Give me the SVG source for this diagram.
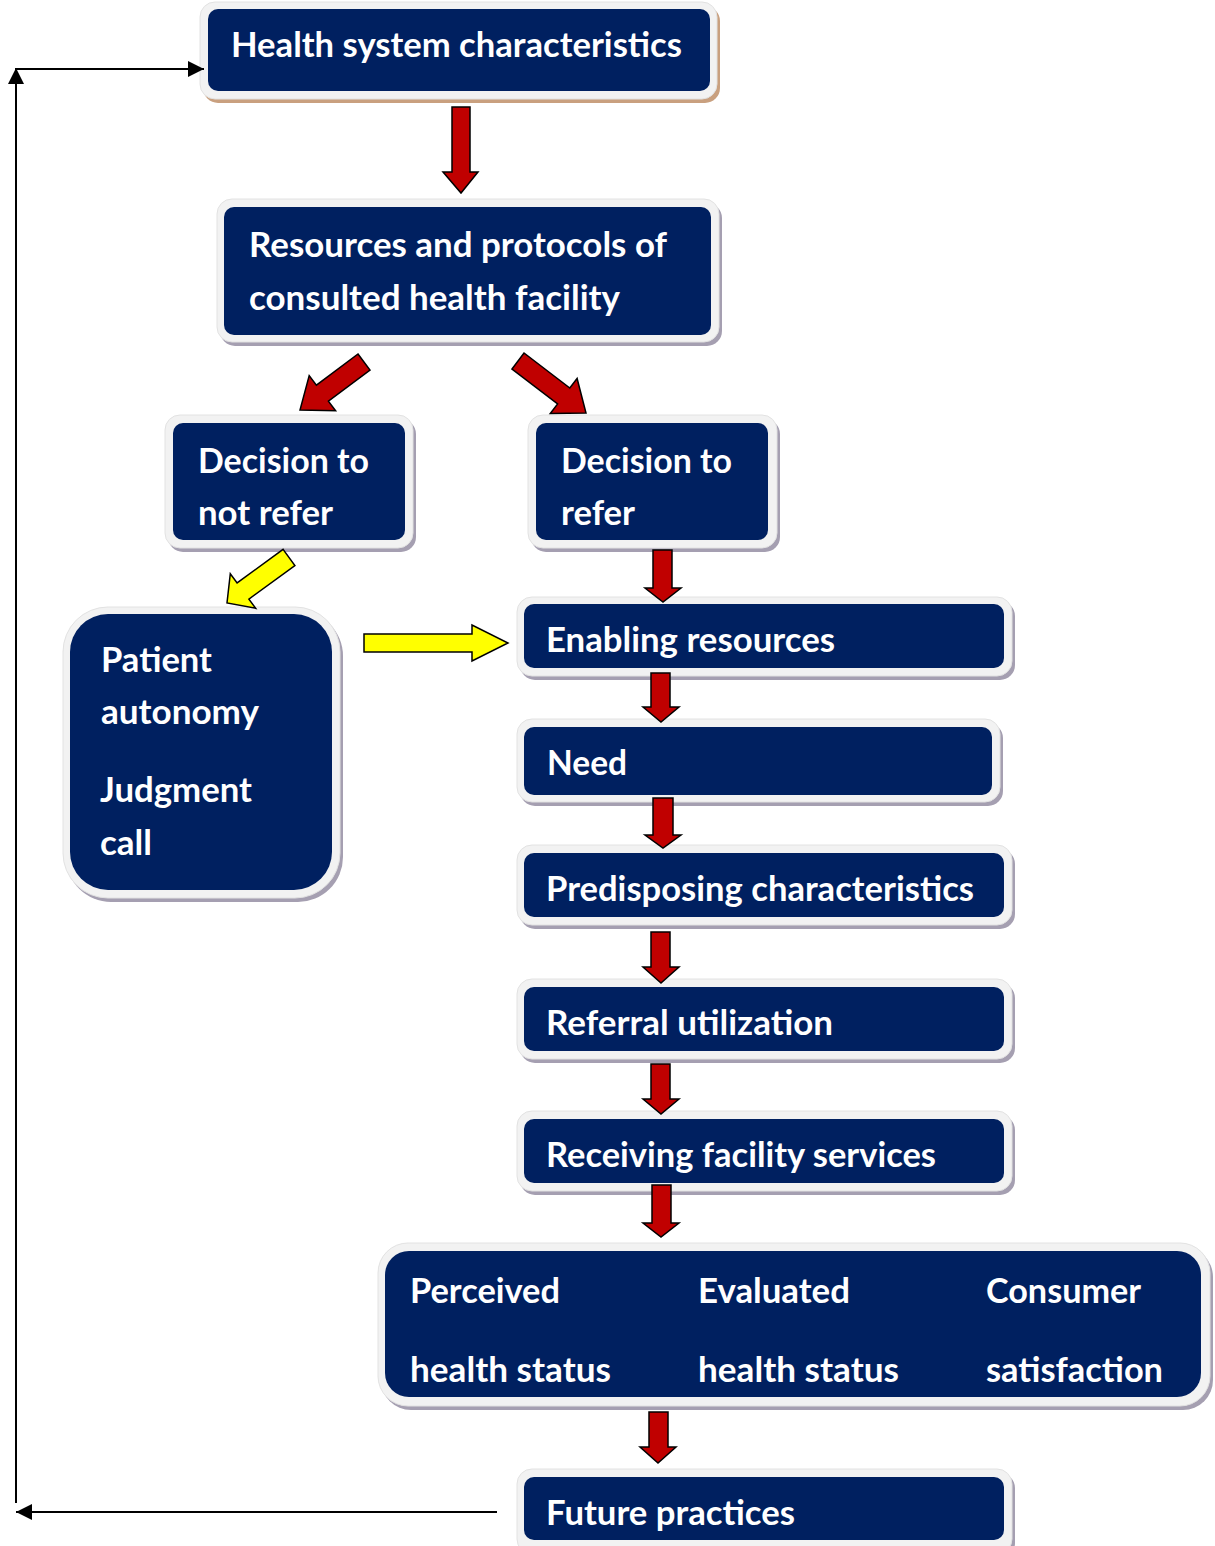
<svg xmlns="http://www.w3.org/2000/svg" width="1215" height="1546" viewBox="0 0 1215 1546">
<style>
.sh{fill:#a59fb1}
.sht{fill:#c9a07f}
.ob{fill:#f2f2f2;stroke:#e2e2e2;stroke-width:1}
.ib{fill:#002060}
.t{font-family:Lato,"Open Sans",sans-serif;font-weight:bold;font-size:34px;fill:#ffffff}
.ra{fill:#c00000;stroke:#000;stroke-width:1.5;stroke-linejoin:miter}
.ya{fill:#ffff00;stroke:#000;stroke-width:1.5;stroke-linejoin:miter}
.fb{fill:none;stroke:#000;stroke-width:2}
</style>
<defs>
<marker id="ah" markerUnits="userSpaceOnUse" markerWidth="16" markerHeight="16" refX="16" refY="8" orient="auto">
<path d="M0,0 L16,8 L0,16 z" fill="#000"/>
</marker>
</defs>

<g id="n-health-system">
<rect class="sht" x="203" y="6" width="517" height="97" rx="15"/>
<rect class="ob" x="200" y="2" width="517" height="97" rx="15"/>
<rect class="ib" x="208" y="9" width="502" height="82" rx="10"/>
<text class="t" x="231" y="57" textLength="451" lengthAdjust="spacingAndGlyphs">Health system characteristics</text>
</g>

<g id="n-resources">
<rect class="sh" x="220" y="203" width="502" height="143" rx="15"/>
<rect class="ob" x="217" y="199" width="502" height="143" rx="15"/>
<rect class="ib" x="224" y="207" width="487" height="128" rx="10"/>
<text class="t" x="249" y="257" textLength="418" lengthAdjust="spacingAndGlyphs">Resources and protocols of</text>
<text class="t" x="249" y="310" textLength="371" lengthAdjust="spacingAndGlyphs">consulted health facility</text>
</g>

<g id="n-not-refer">
<rect class="sh" x="168" y="419" width="248" height="133" rx="15"/>
<rect class="ob" x="165" y="415" width="248" height="133" rx="15"/>
<rect class="ib" x="173" y="423" width="232" height="117" rx="10"/>
<text class="t" x="198" y="473" textLength="171" lengthAdjust="spacingAndGlyphs">Decision to</text>
<text class="t" x="198" y="525" textLength="135" lengthAdjust="spacingAndGlyphs">not refer</text>
</g>

<g id="n-refer">
<rect class="sh" x="531" y="419" width="249" height="133" rx="15"/>
<rect class="ob" x="528" y="415" width="249" height="133" rx="15"/>
<rect class="ib" x="536" y="423" width="232" height="117" rx="10"/>
<text class="t" x="561" y="473" textLength="171" lengthAdjust="spacingAndGlyphs">Decision to</text>
<text class="t" x="561" y="525" textLength="74" lengthAdjust="spacingAndGlyphs">refer</text>
</g>

<g id="n-patient">
<rect class="sh" x="66" y="611" width="277" height="291" rx="45"/>
<rect class="ob" x="63" y="607" width="277" height="291" rx="45"/>
<rect class="ib" x="70" y="614" width="262" height="276" rx="38"/>
<text class="t" x="101" y="672" textLength="111" lengthAdjust="spacingAndGlyphs">Patient</text>
<text class="t" x="101" y="724" textLength="158" lengthAdjust="spacingAndGlyphs">autonomy</text>
<text class="t" x="100" y="802" textLength="152" lengthAdjust="spacingAndGlyphs">Judgment</text>
<text class="t" x="100" y="855" textLength="52" lengthAdjust="spacingAndGlyphs">call</text>
</g>

<g id="n-enabling">
<rect class="sh" x="520" y="601" width="495" height="79" rx="15"/>
<rect class="ob" x="517" y="597" width="495" height="79" rx="15"/>
<rect class="ib" x="524" y="604" width="480" height="64" rx="10"/>
<text class="t" x="546" y="652" textLength="289" lengthAdjust="spacingAndGlyphs">Enabling resources</text>
</g>

<g id="n-need">
<rect class="sh" x="520" y="723" width="483" height="83" rx="15"/>
<rect class="ob" x="517" y="719" width="483" height="83" rx="15"/>
<rect class="ib" x="524" y="727" width="468" height="68" rx="10"/>
<text class="t" x="547" y="775" textLength="80" lengthAdjust="spacingAndGlyphs">Need</text>
</g>

<g id="n-predisposing">
<rect class="sh" x="520" y="849" width="495" height="80" rx="15"/>
<rect class="ob" x="517" y="845" width="495" height="80" rx="15"/>
<rect class="ib" x="524" y="853" width="480" height="64" rx="10"/>
<text class="t" x="546" y="901" textLength="428" lengthAdjust="spacingAndGlyphs">Predisposing characteristics</text>
</g>

<g id="n-referral">
<rect class="sh" x="520" y="983" width="495" height="80" rx="15"/>
<rect class="ob" x="517" y="979" width="495" height="80" rx="15"/>
<rect class="ib" x="524" y="987" width="480" height="64" rx="10"/>
<text class="t" x="546" y="1035" textLength="287" lengthAdjust="spacingAndGlyphs">Referral utilization</text>
</g>

<g id="n-receiving">
<rect class="sh" x="520" y="1115" width="495" height="80" rx="15"/>
<rect class="ob" x="517" y="1111" width="495" height="80" rx="15"/>
<rect class="ib" x="524" y="1119" width="480" height="64" rx="10"/>
<text class="t" x="546" y="1167" textLength="390" lengthAdjust="spacingAndGlyphs">Receiving facility services</text>
</g>

<g id="n-outcomes">
<rect class="sh" x="381" y="1247" width="832" height="163" rx="30"/>
<rect class="ob" x="378" y="1243" width="832" height="163" rx="30"/>
<rect class="ib" x="385" y="1251" width="816" height="146" rx="24"/>
<text class="t" x="410" y="1303" textLength="150" lengthAdjust="spacingAndGlyphs">Perceived</text>
<text class="t" x="410" y="1382" textLength="201" lengthAdjust="spacingAndGlyphs">health status</text>
<text class="t" x="698" y="1303" textLength="152" lengthAdjust="spacingAndGlyphs">Evaluated</text>
<text class="t" x="698" y="1382" textLength="201" lengthAdjust="spacingAndGlyphs">health status</text>
<text class="t" x="986" y="1303" textLength="155" lengthAdjust="spacingAndGlyphs">Consumer</text>
<text class="t" x="986" y="1382" textLength="177" lengthAdjust="spacingAndGlyphs">satisfaction</text>
</g>

<g id="n-future">
<rect class="sh" x="520" y="1473" width="495" height="85" rx="15"/>
<rect class="ob" x="517" y="1469" width="495" height="85" rx="15"/>
<rect class="ib" x="524" y="1477" width="480" height="63" rx="10"/>
<text class="t" x="546" y="1525" textLength="249" lengthAdjust="spacingAndGlyphs">Future practices</text>
</g>

<g id="connectors">
<line class="fb" x1="16" y1="1503" x2="16" y2="68" marker-end="url(#ah)"/>
<line class="fb" x1="16" y1="69" x2="204" y2="69" marker-end="url(#ah)"/>
<line class="fb" x1="497" y1="1512" x2="16" y2="1512" marker-end="url(#ah)"/>
<polygon class="ra" points="452,107 470,107 470,172 478,172 461,193 443,172 452,172"/>
<polygon class="ra" points="358,354 370,370 328.4,401.2 335.6,410.8 300,410 309.2,375.6 316.4,385.2"/>
<polygon class="ra" points="512,369 524,353 569.8,388 577.1,378.5 586,413 550.3,413.5 557.6,404"/>
<polygon class="ya" points="283.1,549.4 294.9,565.6 248.9,599.1 255.7,608.3 227,603 230.3,573.7 237.1,582.9"/>
<polygon class="ya" points="364,634 472,634 472,625 508,643 472,661 472,652 364,652"/>
<polygon class="ra" points="653,550 672,550 672,588 681,588 663,602 645,588 653,588"/>
<polygon class="ra" points="651,673 670,673 670,707 679,707 661,722 643,707 651,707"/>
<polygon class="ra" points="653,798 673,798 673,835 681,835 663,848 645,835 653,835"/>
<polygon class="ra" points="651,932 670,932 670,967 679,967 661,983 643,967 651,967"/>
<polygon class="ra" points="651,1064 670,1064 670,1099 679,1099 661,1114 643,1099 651,1099"/>
<polygon class="ra" points="652,1185 671,1185 671,1223 679,1223 661,1237 643,1223 652,1223"/>
<polygon class="ra" points="649,1412 668,1412 668,1447 676,1447 658,1463 640,1447 649,1447"/>
</g>
</svg>
